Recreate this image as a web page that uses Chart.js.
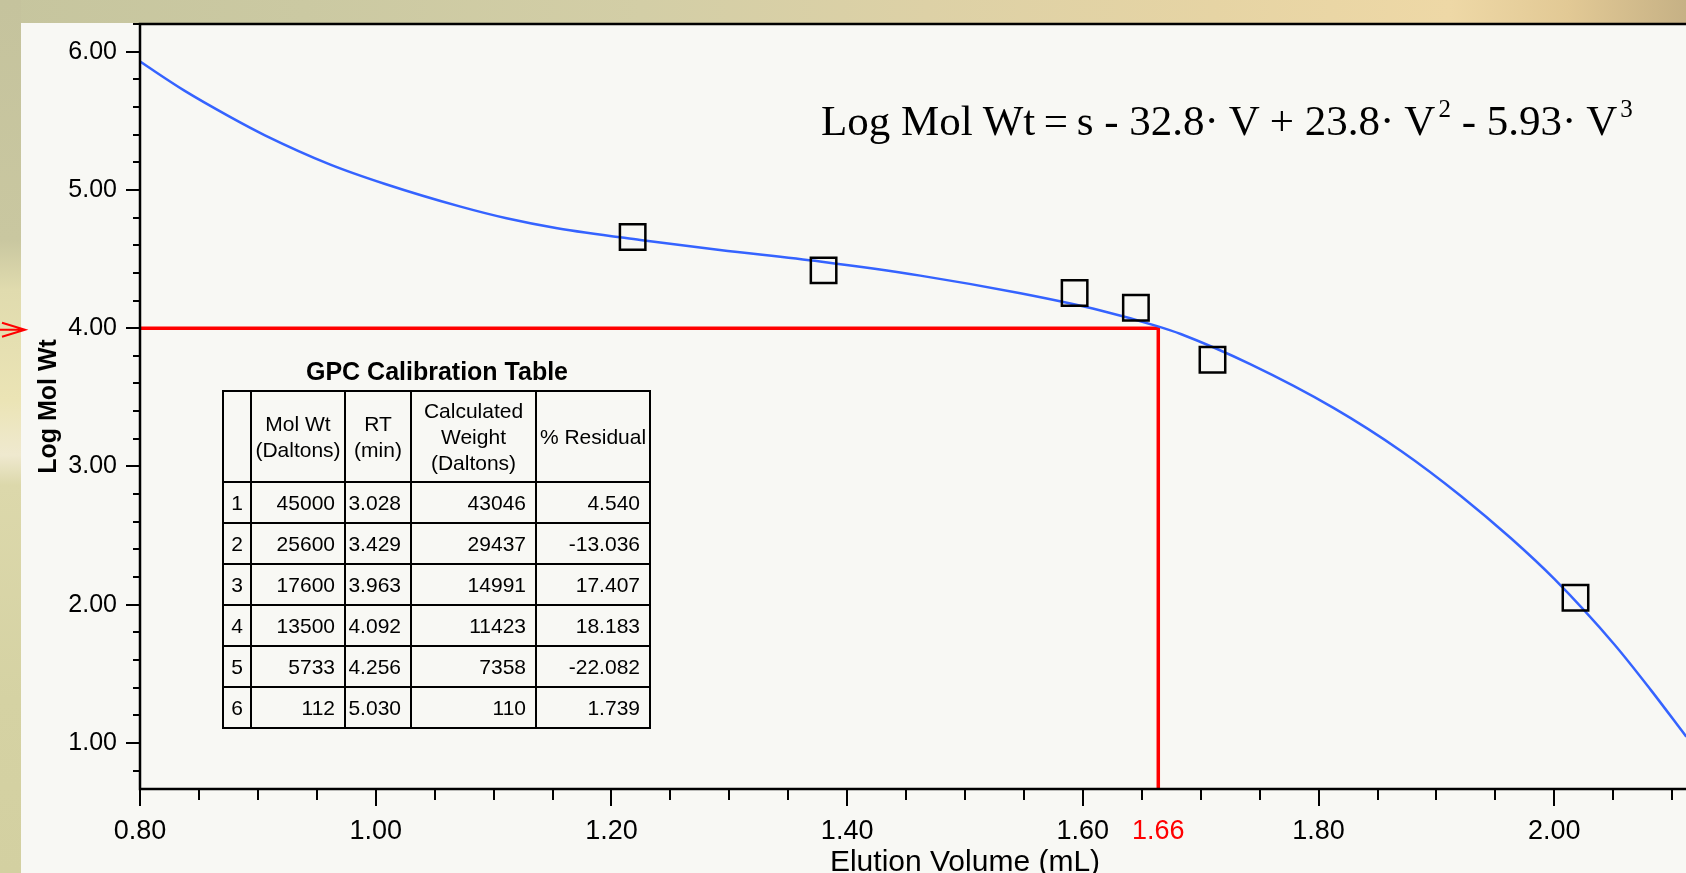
<!DOCTYPE html>
<html><head><meta charset="utf-8">
<script src="https://cdn.jsdelivr.net/npm/chart.js@4/dist/chart.umd.min.js"></script>
<style>
html,body{margin:0;padding:0;width:1686px;height:873px;overflow:hidden;}
body{position:relative;background:#d2cfa4;}
#bgTop{position:absolute;left:0;top:0;width:1686px;height:24px;background:linear-gradient(to right,#c6c59e 0%,#cbc9a2 18%,#d3cea6 38%,#ddd1a6 55%,#e6d4a4 72%,#eed8a6 86%,#e2c995 93%,#c6b185 100%);}
#bgLeft{position:absolute;left:0;top:0;width:21px;height:873px;background:linear-gradient(to bottom,#c5c39d 0px,#c9c7a0 240px,#e0dbae 290px,#ebe4b5 400px,#efe9cf 455px,#dcd8ab 485px,#d5d2a3 700px,#d3d0a1 873px);}
#panel{position:absolute;left:21px;top:23px;width:1665px;height:850px;background:#f8f8f4;}
#wrap{position:absolute;left:0;top:0;width:1790px;height:873px;}
canvas{display:block;}
#eq{position:absolute;left:821px;top:99px;font-family:"Liberation Serif","Times New Roman",serif;font-size:43px;line-height:43px;white-space:nowrap;color:#000;}
#eq sup{font-size:25px;vertical-align:0;position:relative;top:-18px;margin-left:3px;}
#tblTitle{position:absolute;left:223px;width:428px;top:356px;text-align:center;font-family:"Liberation Sans",Arial,sans-serif;font-weight:bold;font-size:25px;line-height:30px;color:#000;}
#tbl{position:absolute;left:222px;top:390px;border-collapse:collapse;table-layout:fixed;font-family:"Liberation Sans",Arial,sans-serif;font-size:21px;color:#000;}
#tbl td,#tbl th{border:2px solid #000;padding:0;font-weight:normal;}
#tbl th{line-height:26px;text-align:center;height:89px;}
#tbl td{height:39px;text-align:right;padding-right:9px;line-height:22px;}
#tbl td.n{text-align:center;padding-right:0;}
</style></head>
<body>
<div id="bgTop"></div><div id="bgLeft"></div><div id="panel"></div>
<div id="wrap"><canvas id="c" width="1790" height="873" style="width:1790px;height:873px"></canvas></div>
<div id="eq"></div>
<div id="tblTitle"></div>
<table id="tbl"><colgroup><col style="width:28px"><col style="width:94px"><col style="width:66px"><col style="width:125px"><col style="width:114px"></colgroup><thead></thead><tbody></tbody></table>
<script>
// ---------- data ----------
const curveX = [0.800, 0.838, 0.876, 0.906, 0.961, 1.008, 1.072, 1.111, 1.154, 1.2245, 1.292, 1.377, 1.462, 1.547, 1.615, 1.663, 1.683, 1.742, 1.813, 1.870, 1.921, 1.963, 2.000, 2.051, 2.082, 2.112];
const curveY = [5.928, 5.716, 5.530, 5.395, 5.185, 5.043, 4.879, 4.795, 4.723, 4.638, 4.566, 4.482, 4.380, 4.252, 4.128, 4.015, 3.958, 3.740, 3.422, 3.112, 2.785, 2.482, 2.186, 1.712, 1.382, 1.045];
const sampleX = [1.218, 1.380, 1.593, 1.645, 1.710, 2.018];
const sampleY = [4.659, 4.418, 4.255, 4.147, 3.771, 2.050];
const markerX = 1.664;
const markerY = 4.00;
const xTickValues = [0.80, 1.00, 1.20, 1.40, 1.60, 1.80, 2.00];
const yTickValues = [1.00, 2.00, 3.00, 4.00, 5.00, 6.00];
const xMin = 0.80, xMax = 2.20, yMin = 0.667, yMax = 6.20;
const xTitle = 'Elution Volume (mL)';
const yTitle = 'Log Mol Wt';
const equationParts = ['Log Mol Wt\u2009=\u2009s - 32.8\u00b7 V + 23.8\u00b7 V', '2', ' - 5.93\u00b7 V', '3'];
const tableTitle = 'GPC Calibration Table';
const tableHeaders = ['', 'Mol Wt<br>(Daltons)', 'RT<br>(min)', 'Calculated<br>Weight<br>(Daltons)', '% Residual'];
const rowNo = [1, 2, 3, 4, 5, 6];
const molWt = [45000, 25600, 17600, 13500, 5733, 112];
const rtMin = [3.028, 3.429, 3.963, 4.092, 4.256, 5.030];
const calcWt = [43046, 29437, 14991, 11423, 7358, 110];
const residual = [4.540, -13.036, 17.407, 18.183, -22.082, 1.739];

// ---------- equation & table ----------
document.getElementById('eq').innerHTML =
  equationParts[0] + '<sup>' + equationParts[1] + '</sup>' + equationParts[2] + '<sup>' + equationParts[3] + '</sup>';
document.getElementById('tblTitle').textContent = tableTitle;
const thead = document.querySelector('#tbl thead');
thead.innerHTML = '<tr>' + tableHeaders.map(h => '<th>' + h + '</th>').join('') + '</tr>';
const tbody = document.querySelector('#tbl tbody');
tbody.innerHTML = rowNo.map((n, i) =>
  '<tr><td class="n">' + n + '</td><td>' + molWt[i] + '</td><td>' + rtMin[i].toFixed(3) +
  '</td><td>' + calcWt[i] + '</td><td>' + residual[i].toFixed(3) + '</td></tr>').join('');

// ---------- chart ----------
Chart.defaults.font.family = '"Liberation Sans", Arial, sans-serif';
Chart.defaults.color = '#000';

const zeroPad = s => { s.paddingTop = 0; s.paddingBottom = 0; s.paddingLeft = 0; s.paddingRight = 0; };

const frameTicks = {
  id: 'frameTicks',
  afterDraw(chart) {
    const {ctx, chartArea: a, scales: {x, y}} = chart;
    ctx.save();
    ctx.strokeStyle = '#000';
    ctx.lineCap = 'butt';
    ctx.lineWidth = 2.5;
    ctx.beginPath();
    ctx.moveTo(a.left - 1.25, a.top); ctx.lineTo(a.right, a.top);
    ctx.moveTo(a.left, a.top); ctx.lineTo(a.left, a.bottom);
    ctx.moveTo(a.left - 1.25, a.bottom); ctx.lineTo(a.right, a.bottom);
    ctx.stroke();
    ctx.lineWidth = 2;
    ctx.beginPath();
    for (let k = Math.ceil(yMin / 0.2 - 1e-9); k * 0.2 <= yMax + 1e-9; k++) {
      const v = k * 0.2;
      const major = Math.abs(v - Math.round(v)) < 1e-6;
      const py = Math.round(y.getPixelForValue(v));
      ctx.moveTo(a.left, py); ctx.lineTo(a.left - (major ? 14 : 7), py);
    }
    for (let k = Math.ceil(xMin / 0.05 - 1e-9); k * 0.05 <= xMax + 1e-9; k++) {
      const v = k * 0.05;
      const major = Math.abs(v / 0.2 - Math.round(v / 0.2)) < 1e-6;
      const px = Math.round(x.getPixelForValue(v));
      ctx.moveTo(px, a.bottom); ctx.lineTo(px, a.bottom + (major ? 17 : 11));
    }
    ctx.stroke();
    // red arrow at the left edge pointing to the marker value
    const ay = y.getPixelForValue(markerY) + 1.5;
    ctx.strokeStyle = '#ff0000';
    ctx.lineWidth = 2;
    ctx.beginPath();
    ctx.moveTo(0, ay); ctx.lineTo(24, ay);
    ctx.moveTo(2, ay - 7); ctx.lineTo(25, ay); ctx.lineTo(2, ay + 7);
    ctx.stroke();
    ctx.restore();
  }
};

new Chart(document.getElementById('c'), {
  data: {
    datasets: [
      {
        type: 'scatter',
        data: sampleX.map((v, i) => ({x: v, y: sampleY[i]})),
        pointStyle: 'rect', pointRadius: 18, pointHoverRadius: 18,
        borderColor: '#000', borderWidth: 2.5, backgroundColor: 'rgba(0,0,0,0)'
      },
      {
        type: 'line',
        data: curveX.map((v, i) => ({x: v, y: curveY[i]})),
        borderColor: '#3563ff', borderWidth: 2.5, pointRadius: 0,
        cubicInterpolationMode: 'monotone', fill: false
      },
      {
        type: 'line',
        data: [{x: xMin, y: markerY}, {x: markerX, y: markerY}, {x: markerX, y: yMin}],
        borderColor: '#ff0000', borderWidth: 3.5, pointRadius: 0, tension: 0,
        borderJoinStyle: 'miter', fill: false
      }
    ]
  },
  options: {
    responsive: false, animation: false, devicePixelRatio: 1, events: [],
    layout: {autoPadding: false, padding: {top: 24, left: 0, right: 0, bottom: 0}},
    plugins: {legend: {display: false}, tooltip: {enabled: false}},
    scales: {
      x: {
        type: 'linear', position: 'bottom', min: xMin, max: xMax,
        afterFit: s => { s.height = 84; zeroPad(s); },
        afterBuildTicks: s => { s.ticks = [...xTickValues, markerX].sort((a, b) => a - b).map(v => ({value: v})); },
        grid: {display: false, drawTicks: false}, border: {display: false},
        ticks: {
          autoSkip: false, maxRotation: 0, padding: 26,
          font: {size: 27},
          color: ctx => (ctx.tick && Math.abs(ctx.tick.value - markerX) < 1e-9) ? '#ff0000' : '#000',
          callback: v => Number(v).toFixed(2)
        },
        title: {display: true, text: xTitle, font: {size: 30, lineHeight: 0.7}, padding: {top: 0, bottom: 0}, color: '#000'}
      },
      y: {
        type: 'linear', position: 'left', min: yMin, max: yMax,
        afterFit: s => { s.width = 140; zeroPad(s); },
        afterBuildTicks: s => { s.ticks = yTickValues.map(v => ({value: v})); },
        grid: {display: false, drawTicks: false}, border: {display: false},
        ticks: {autoSkip: false, padding: 23, font: {size: 25}, callback: v => Number(v).toFixed(2)},
        title: {display: true, text: yTitle, font: {size: 25, weight: 'bold', lineHeight: 1}, padding: {top: 37, bottom: 0}, color: '#000'}
      }
    }
  },
  plugins: [frameTicks]
});
</script>
</body></html>
